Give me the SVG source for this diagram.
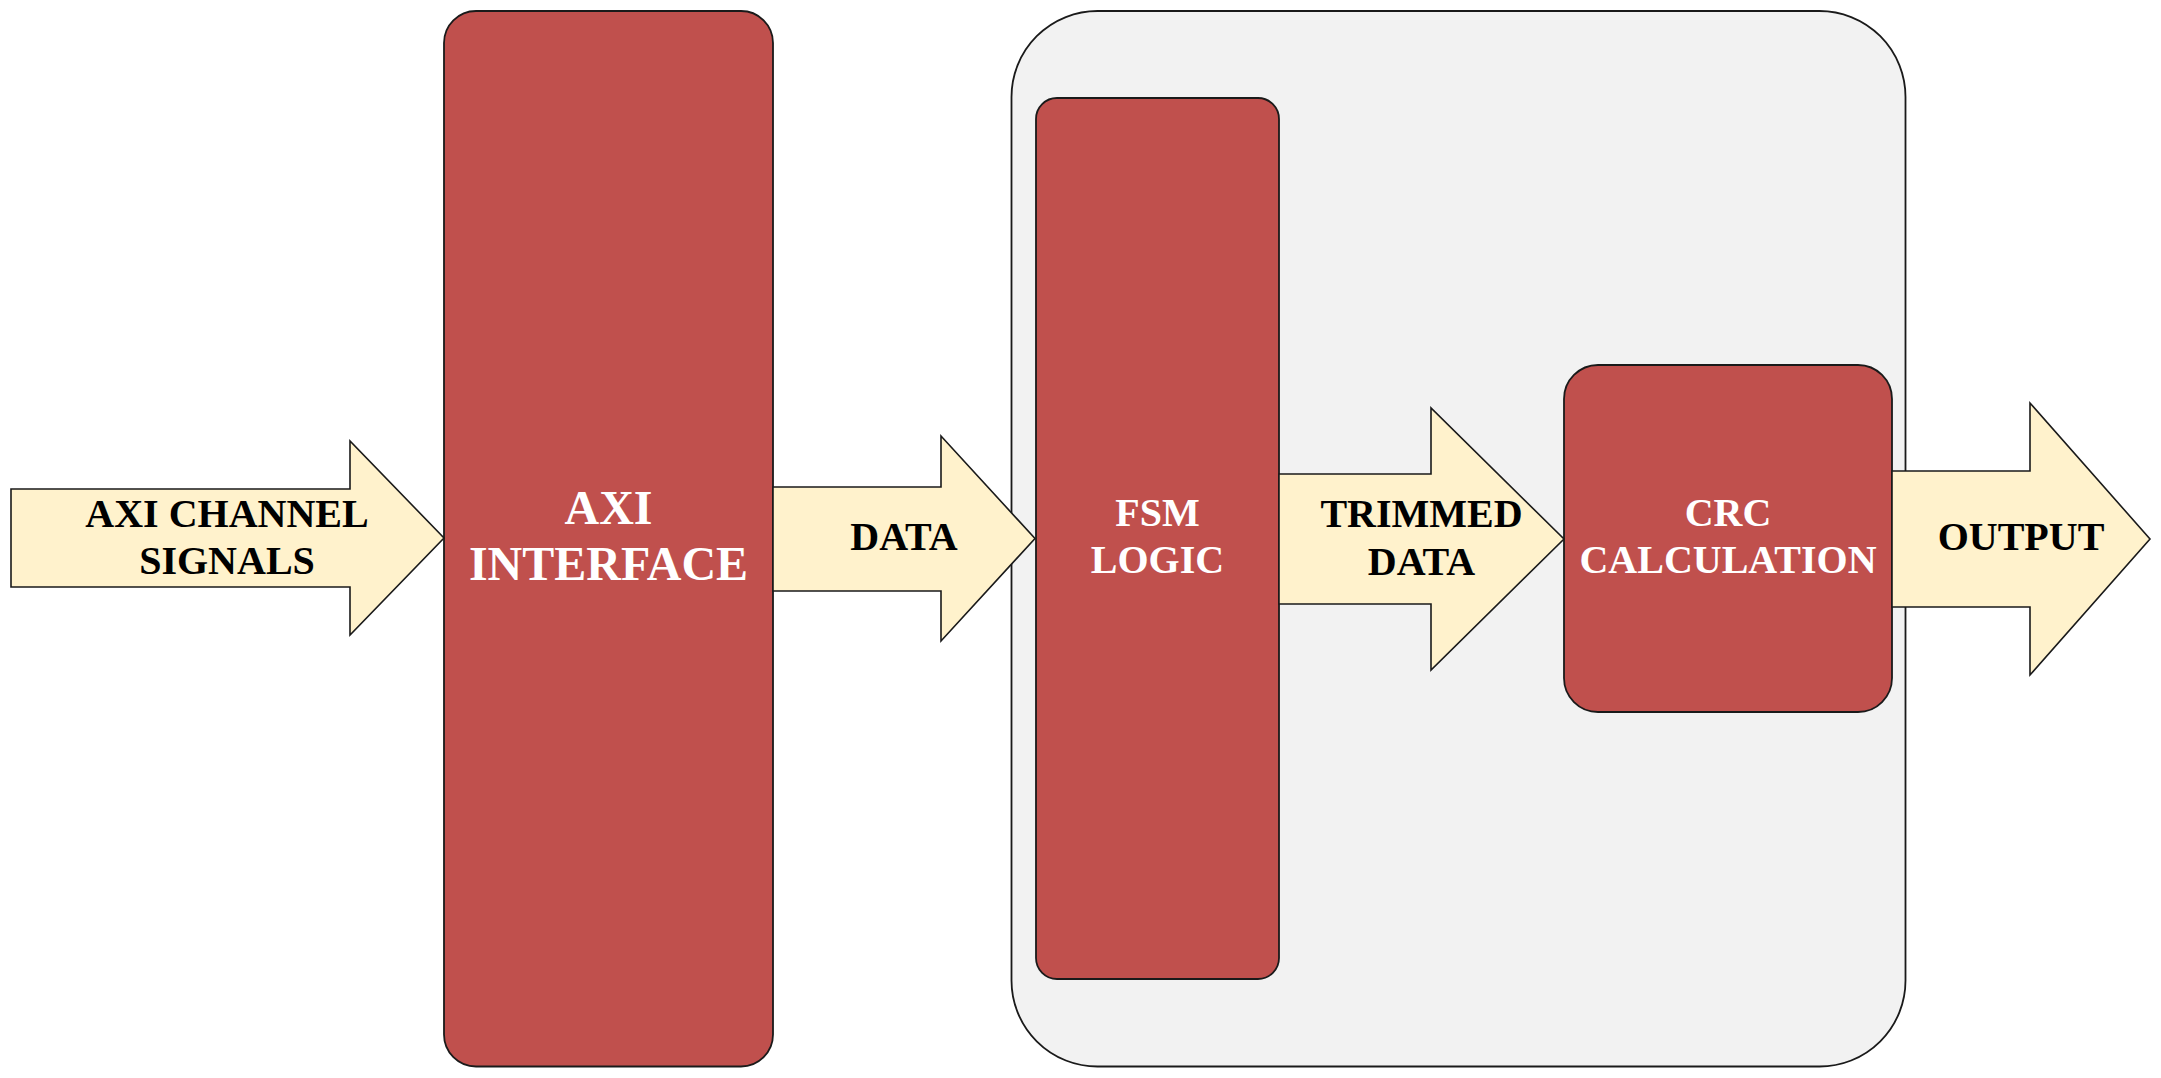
<svg xmlns="http://www.w3.org/2000/svg" width="2161" height="1078" viewBox="0 0 2161 1078">
<style>
.blk{fill:#C0504D;stroke:#1a1a1a;stroke-width:1.8}
.grp{fill:#F2F2F2;stroke:#1a1a1a;stroke-width:1.8}
.arr{fill:#FFF2CC;stroke:#1a1a1a;stroke-width:1.6;stroke-linejoin:miter}
.lt{font-family:"Liberation Serif","Times New Roman",serif;font-weight:bold;font-size:40px;fill:#000;text-anchor:middle}
.wt{font-family:"Liberation Serif","Times New Roman",serif;font-weight:bold;font-size:40px;fill:#fff;text-anchor:middle}
.big{font-size:48px}
</style>
<rect width="2161" height="1078" fill="#fff"/>
<g id="core">
<rect class="grp" x="1011.5" y="11" width="894" height="1055.5" rx="86" ry="86"/>
</g>
<g id="axi-interface">
<rect class="blk" x="444" y="11" width="329" height="1055.5" rx="32" ry="32"/>
<text class="wt big" x="608.5" y="524">AXI</text>
<text class="wt big" x="608.5" y="580">INTERFACE</text>
</g>
<g id="fsm-logic">
<rect class="blk" x="1036" y="98" width="243" height="881" rx="21" ry="21"/>
<text class="wt" x="1157.5" y="526">FSM</text>
<text class="wt" x="1157.5" y="573">LOGIC</text>
</g>
<g id="crc-calculation">
<rect class="blk" x="1564" y="365" width="328" height="347" rx="34" ry="34"/>
<text class="wt" x="1728" y="526">CRC</text>
<text class="wt" x="1728" y="573">CALCULATION</text>
</g>
<g id="connectors">
<g id="axi-channel-signals">
<polygon class="arr" points="11,489 350,489 350,441 444,538 350,635 350,587 11,587"/>
<text class="lt" x="227" y="527">AXI CHANNEL</text>
<text class="lt" x="227" y="574">SIGNALS</text>
</g>
<g id="data">
<polygon class="arr" points="773,487 941,487 941,436 1035,538.5 941,641 941,591 773,591"/>
<text class="lt" x="904" y="550">DATA</text>
</g>
<g id="trimmed-data">
<polygon class="arr" points="1279,474 1431,474 1431,408 1564,539 1431,670 1431,604 1279,604"/>
<text class="lt" x="1421.5" y="527">TRIMMED</text>
<text class="lt" x="1421.5" y="575">DATA</text>
</g>
<g id="output">
<polygon class="arr" points="1892,471 2030,471 2030,403 2150,539 2030,675 2030,607 1892,607"/>
<text class="lt" x="2021" y="550">OUTPUT</text>
</g>
</g>
</svg>
